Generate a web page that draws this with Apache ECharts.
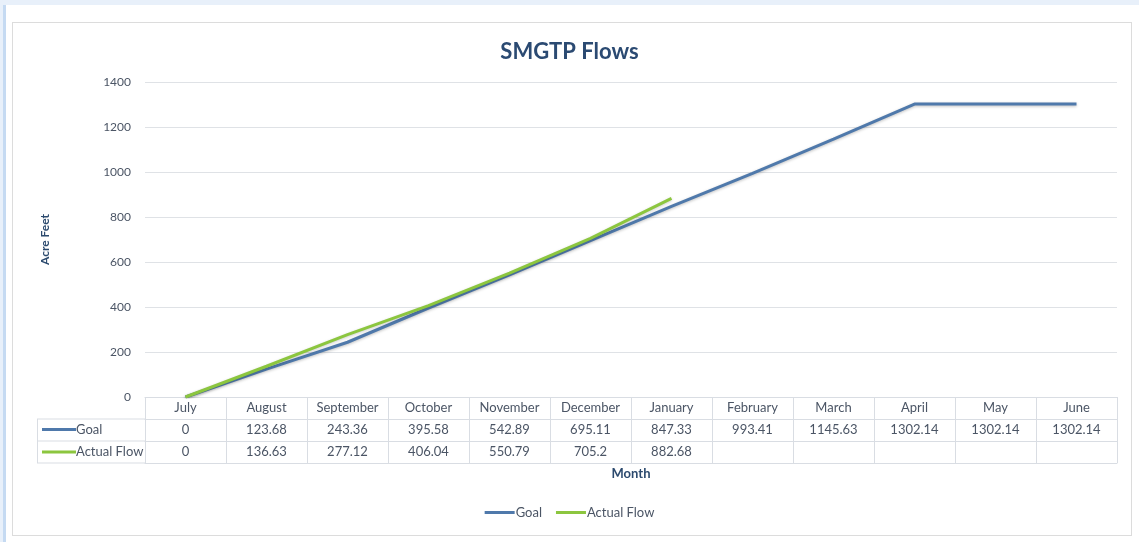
<!DOCTYPE html>
<html>
<head>
<meta charset="utf-8">
<script src="https://cdn.jsdelivr.net/npm/echarts@6/dist/echarts.min.js"></script>
<style>
  html, body { margin: 0; padding: 0; background: #e8f0fa; }
  #wrap { position: absolute; left: 3px; top: 5px; right: 0; bottom: 0; background: #ffffff; border-left: 3px solid #c5daf2; }
  #frame { position: absolute; left: 12px; top: 22px; width: 1120px; height: 514px; border: 1px solid #dcdcdc; box-sizing: border-box; }
  #main { position: absolute; left: 0; top: 0; width: 1139px; height: 542px; }
</style>
</head>
<body>
<div id="wrap"></div>
<div id="frame"></div>
<div id="main"></div>
<script>
  var months = ['July', 'August', 'September', 'October', 'November', 'December',
                'January', 'February', 'March', 'April', 'May', 'June'];
  var goal = [0, 123.68, 243.36, 395.58, 542.89, 695.11, 847.33, 993.41, 1145.63, 1302.14, 1302.14, 1302.14];
  var actualFlow = [0, 136.63, 277.12, 406.04, 550.79, 705.2, 882.68, null, null, null, null, null];
  var yTicks = [0, 200, 400, 600, 800, 1000, 1200, 1400];

  var font = 'Lato, "Open Sans", sans-serif';
  var textCol = '#4b5565';
  var cellLine = '#d9dde3';
  var goalCol = '#4f79ab';
  var actualCol = '#8cc63f';

  var chart = echarts.init(document.getElementById('main'), null, { renderer: 'canvas' });

  // table rows under the plot, each one a bottom x axis
  function rowAxis(offset, values, extra) {
    return Object.assign({
      type: 'category',
      data: months,
      position: 'bottom',
      offset: offset,
      boundaryGap: true,
      axisLine: { show: true, lineStyle: { color: cellLine, width: 1 } },
      axisTick: { show: false },
      axisLabel: {
        show: !!values,
        interval: 0,
        margin: 4,
        fontFamily: font,
        fontSize: 13,
        color: textCol,
        formatter: function (v, i) {
          var x = values ? values[i] : null;
          return x == null ? '' : String(x);
        }
      }
    }, extra || {});
  }

  chart.setOption({
    backgroundColor: 'transparent',
    animation: false,
    title: {
      text: 'SMGTP Flows',
      left: 'center',
      top: 36,
      textStyle: { fontFamily: font, fontSize: 22, fontWeight: 'bold', color: '#2b4a72' }
    },
    legend: {
      bottom: 18,
      left: 'center',
      icon: 'rect',
      itemWidth: 30,
      itemHeight: 3,
      itemGap: 14,
      textStyle: { fontFamily: font, fontSize: 13, color: textCol, padding: [0, 0, 0, -4] },
      data: ['Goal', 'Actual Flow']
    },
    grid: { left: 145, right: 22, top: 82, bottom: 145 },
    xAxis: [
      {
        type: 'category',
        data: months,
        boundaryGap: true,
        axisLine: { show: true, lineStyle: { color: cellLine } },
        axisTick: { show: true, length: 66, lineStyle: { color: cellLine } },
        axisLabel: { interval: 0, margin: 4, fontFamily: font, fontSize: 13, color: textCol }
      },
      rowAxis(22, goal),
      rowAxis(44, actualFlow),
      rowAxis(66, null, {
        name: 'Month',
        nameLocation: 'middle',
        nameGap: 4,
        nameTextStyle: { fontFamily: font, fontSize: 13, fontWeight: 'bold', color: '#2c4a6e', verticalAlign: 'top' }
      })
    ],
    yAxis: {
      type: 'value',
      min: yTicks[0],
      max: yTicks[yTicks.length - 1],
      interval: 200,
      name: 'Acre Feet',
      nameLocation: 'middle',
      nameRotate: 90,
      nameGap: 94,
      nameTextStyle: { fontFamily: font, fontSize: 12, fontWeight: 'bold', color: '#2c4a6e' },
      axisLine: { show: false },
      axisTick: { show: false },
      axisLabel: {
        margin: 14, fontFamily: font, fontSize: 12, color: textCol,
        formatter: function (v) { return String(v); }
      },
      splitLine: { lineStyle: { color: '#dfe2e6', width: 1 } }
    },
    graphic: [
      // row header column of the data table
      { type: 'line', shape: { x1: 37, y1: 419, x2: 145, y2: 419 }, style: { stroke: cellLine, lineWidth: 1 } },
      { type: 'line', shape: { x1: 37, y1: 441, x2: 145, y2: 441 }, style: { stroke: cellLine, lineWidth: 1 } },
      { type: 'line', shape: { x1: 37, y1: 463, x2: 145, y2: 463 }, style: { stroke: cellLine, lineWidth: 1 } },
      { type: 'line', shape: { x1: 37.5, y1: 419, x2: 37.5, y2: 463 }, style: { stroke: cellLine, lineWidth: 1 } },
      { type: 'line', shape: { x1: 42, y1: 429.5, x2: 76, y2: 429.5 }, style: { stroke: goalCol, lineWidth: 3 } },
      { type: 'text', x: 76, y: 430, style: { text: 'Goal', fontFamily: font, fontSize: 13, fill: textCol, textVerticalAlign: 'middle' } },
      { type: 'line', shape: { x1: 42, y1: 452, x2: 76, y2: 452 }, style: { stroke: actualCol, lineWidth: 3 } },
      { type: 'text', x: 76, y: 452, style: { text: 'Actual Flow', fontFamily: font, fontSize: 13, fill: textCol, textVerticalAlign: 'middle' } }
    ],
    series: [
      {
        name: 'Goal',
        type: 'line',
        data: goal,
        showSymbol: false,
        symbol: 'none',
        color: goalCol,
        lineStyle: { width: 3, color: goalCol, shadowColor: 'rgba(0,0,0,0.25)', shadowBlur: 3, shadowOffsetY: 1 },
        z: 2
      },
      {
        name: 'Actual Flow',
        type: 'line',
        data: actualFlow,
        showSymbol: false,
        symbol: 'none',
        color: actualCol,
        lineStyle: { width: 3, color: actualCol, shadowColor: 'rgba(0,0,0,0.2)', shadowBlur: 3, shadowOffsetY: 1 },
        z: 3
      }
    ]
  });
</script>
</body>
</html>
